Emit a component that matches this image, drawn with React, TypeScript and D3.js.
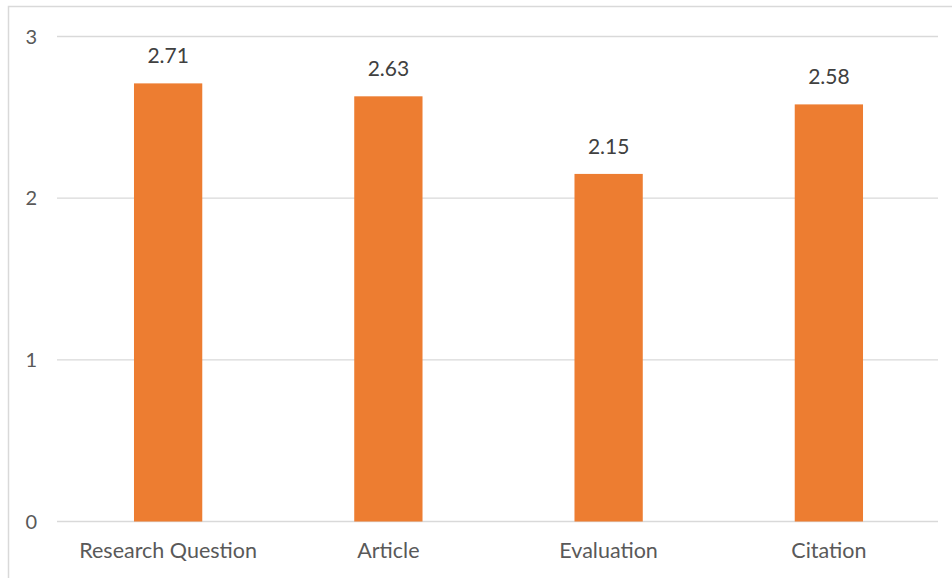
import { useEffect, useRef } from "react";
import * as d3 from "d3";

const categories = ["Research Question", "Article", "Evaluation", "Citation"];
const values = [2.71, 2.63, 2.15, 2.58];
const yTicks = [0, 1, 2, 3];

export default function App() {
  const ref = useRef<SVGSVGElement | null>(null);

  useEffect(() => {
    const svg = d3.select(ref.current);
    const width = 952;
    const height = 578;
    svg.selectAll("*").remove();
    svg.attr("width", width).attr("height", height);

    svg
      .append("rect")
      .attr("width", width)
      .attr("height", height)
      .attr("fill", "#fff");

    // chart border
    svg
      .append("rect")
      .attr("x", 8.5)
      .attr("y", 6.5)
      .attr("width", width + 10)
      .attr("height", height + 10)
      .attr("fill", "none")
      .attr("stroke", "#d9d9d9")
      .attr("stroke-width", 1.5);

    const x = d3
      .scaleBand<string>()
      .domain(categories)
      .range([58, 939])
      .paddingInner(0.69)
      .paddingOuter(0.345);

    const y = d3.scaleLinear().domain([0, 3]).range([521.5, 36.5]);

    const font = "Lato, 'Open Sans', sans-serif";

    svg
      .append("g")
      .selectAll("line")
      .data(yTicks)
      .enter()
      .append("line")
      .attr("x1", 57)
      .attr("x2", 938)
      .attr("y1", (d) => y(d))
      .attr("y2", (d) => y(d))
      .attr("stroke", "#d9d9d9")
      .attr("stroke-width", 1.3);

    svg
      .append("g")
      .selectAll("text")
      .data(yTicks)
      .enter()
      .append("text")
      .attr("x", 37)
      .attr("y", (d) => y(d))
      .attr("dy", "0.35em")
      .attr("text-anchor", "end")
      .attr("font-family", font)
      .attr("font-size", 20)
      .attr("fill", "#595959")
      .text((d) => d);

    const data = categories.map((c, i) => ({ label: c, value: values[i] }));

    svg
      .append("g")
      .selectAll("rect")
      .data(data)
      .enter()
      .append("rect")
      .attr("x", (d) => x(d.label)!)
      .attr("y", (d) => y(d.value))
      .attr("width", x.bandwidth())
      .attr("height", (d) => y(0) - y(d.value))
      .attr("fill", "#ed7d31");

    svg
      .append("g")
      .selectAll("text")
      .data(data)
      .enter()
      .append("text")
      .attr("x", (d) => x(d.label)! + x.bandwidth() / 2)
      .attr("y", (d) => y(d.value) - 20)
      .attr("text-anchor", "middle")
      .attr("font-family", font)
      .attr("font-size", 21)
      .attr("fill", "#404040")
      .text((d) => d.value.toFixed(2));

    svg
      .append("g")
      .selectAll("text")
      .data(categories)
      .enter()
      .append("text")
      .attr("x", (d) => x(d)! + x.bandwidth() / 2)
      .attr("y", 558)
      .attr("text-anchor", "middle")
      .attr("font-family", font)
      .attr("font-size", 21.5)
      .attr("fill", "#595959")
      .text((d) => d);
  }, []);

  return (
    <svg
      ref={ref}
      style={{ position: "absolute", left: 0, top: 0, display: "block" }}
    ></svg>
  );
}
